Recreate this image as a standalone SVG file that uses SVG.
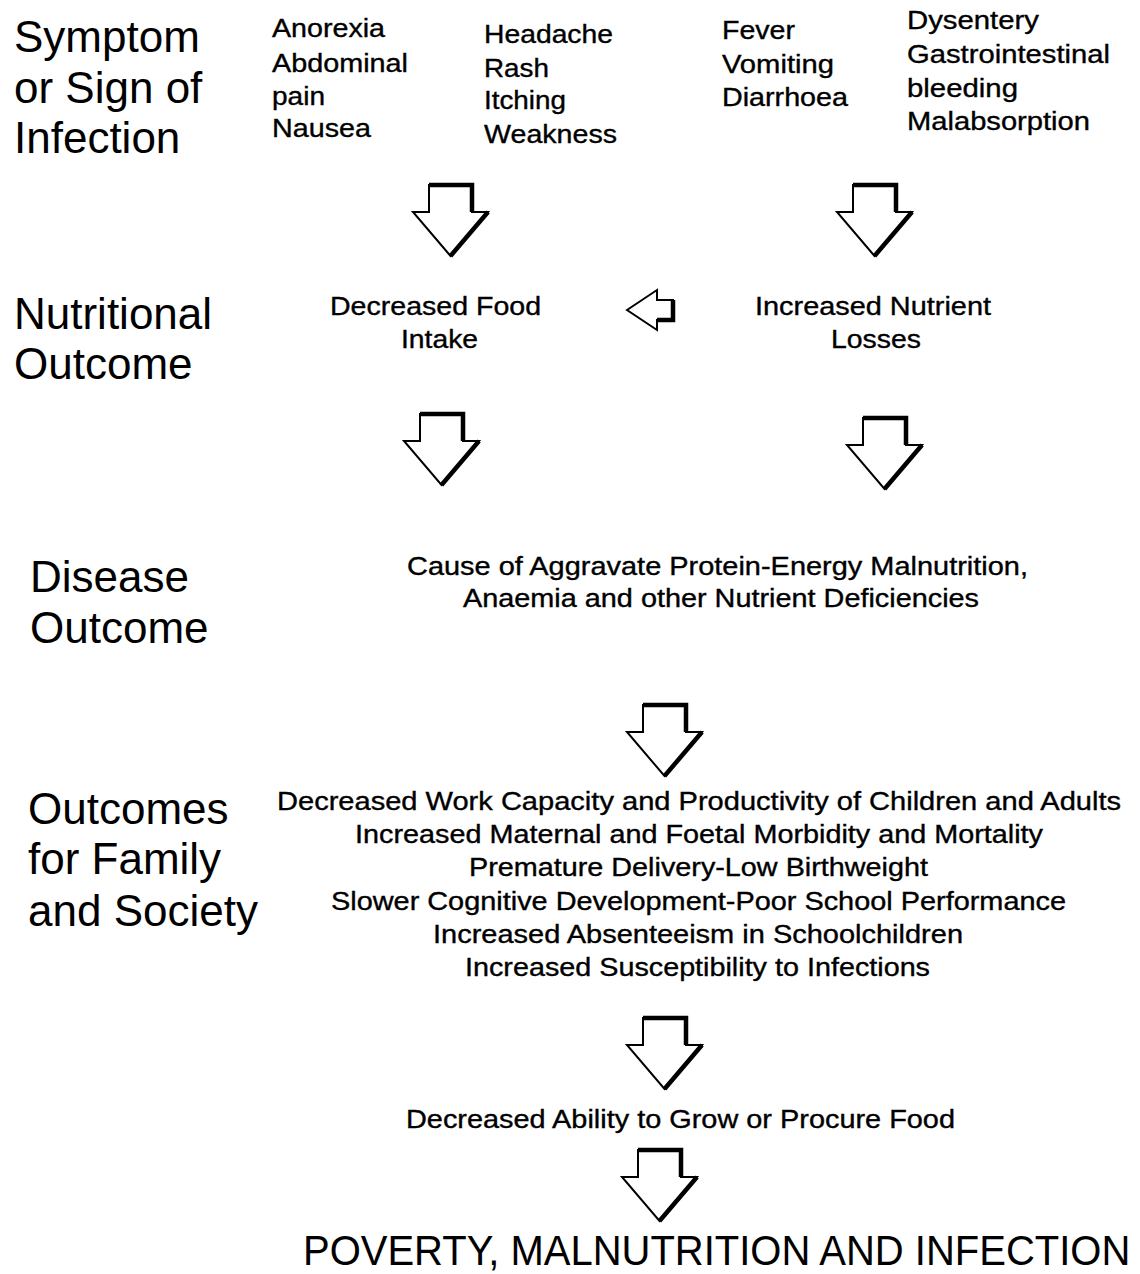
<svg xmlns="http://www.w3.org/2000/svg" width="1140" height="1274" viewBox="0 0 1140 1274">
<style>
text { font-family: "Liberation Sans", Arial, sans-serif; fill: #000; }
.h { font-size: 44px; }
.s { font-size: 25px; stroke: #000; stroke-width: 0.35px; }
.big { font-size: 40px; }
.arrow { fill: #fff; stroke: #000; stroke-width: 2; stroke-linejoin: miter; }
.shadow { fill: none; stroke: #000; stroke-width: 4.5; stroke-linejoin: miter; }
</style>
<defs>
<g id="down">
<path class="arrow" d="M0,0 H43 V27 H59 L21.5,71 L-16,27 H0 Z"/>
<path class="shadow" d="M0,0 H43 V27 M59,27 L21.5,71"/>
</g>
</defs>
<rect width="1140" height="1274" fill="#fff"/>

<g id="heading-symptom">
<text class="h" x="14" y="52">Symptom</text>
<text class="h" x="14" y="103">or Sign of</text>
<text class="h" x="14" y="153">Infection</text>
</g>
<g id="heading-nutritional">
<text class="h" x="14" y="329">Nutritional</text>
<text class="h" x="14" y="379">Outcome</text>
</g>
<g id="heading-disease">
<text class="h" x="30" y="592">Disease</text>
<text class="h" x="30" y="643">Outcome</text>
</g>
<g id="heading-society">
<text class="h" x="28" y="824">Outcomes</text>
<text class="h" x="28" y="874">for Family</text>
<text class="h" x="28" y="926">and Society</text>
</g>

<g id="symptoms-1">
<text class="s" x="272" y="37" textLength="113" lengthAdjust="spacingAndGlyphs">Anorexia</text>
<text class="s" x="272" y="72" textLength="136" lengthAdjust="spacingAndGlyphs">Abdominal</text>
<text class="s" x="272" y="105" textLength="53" lengthAdjust="spacingAndGlyphs">pain</text>
<text class="s" x="272" y="137" textLength="99" lengthAdjust="spacingAndGlyphs">Nausea</text>
</g>
<g id="symptoms-2">
<text class="s" x="484" y="43" textLength="129" lengthAdjust="spacingAndGlyphs">Headache</text>
<text class="s" x="484" y="77" textLength="65" lengthAdjust="spacingAndGlyphs">Rash</text>
<text class="s" x="484" y="109" textLength="82" lengthAdjust="spacingAndGlyphs">Itching</text>
<text class="s" x="484" y="143" textLength="133" lengthAdjust="spacingAndGlyphs">Weakness</text>
</g>
<g id="symptoms-3">
<text class="s" x="722" y="39" textLength="73" lengthAdjust="spacingAndGlyphs">Fever</text>
<text class="s" x="722" y="73" textLength="112" lengthAdjust="spacingAndGlyphs">Vomiting</text>
<text class="s" x="722" y="106" textLength="126" lengthAdjust="spacingAndGlyphs">Diarrhoea</text>
</g>
<g id="symptoms-4">
<text class="s" x="907" y="29" textLength="132" lengthAdjust="spacingAndGlyphs">Dysentery</text>
<text class="s" x="907" y="63" textLength="203" lengthAdjust="spacingAndGlyphs">Gastrointestinal</text>
<text class="s" x="907" y="97" textLength="111" lengthAdjust="spacingAndGlyphs">bleeding</text>
<text class="s" x="907" y="130" textLength="183" lengthAdjust="spacingAndGlyphs">Malabsorption</text>
</g>

<g id="decreased-food-intake">
<text class="s" x="330" y="315" textLength="211" lengthAdjust="spacingAndGlyphs">Decreased Food</text>
<text class="s" x="401" y="348" textLength="77" lengthAdjust="spacingAndGlyphs">Intake</text>
</g>
<g id="increased-nutrient-losses">
<text class="s" x="755" y="315" textLength="236" lengthAdjust="spacingAndGlyphs">Increased Nutrient</text>
<text class="s" x="831" y="348" textLength="90" lengthAdjust="spacingAndGlyphs">Losses</text>
</g>

<g id="disease-outcome">
<text class="s" x="407" y="575" textLength="621" lengthAdjust="spacingAndGlyphs">Cause of Aggravate Protein-Energy Malnutrition,</text>
<text class="s" x="463" y="607" textLength="516" lengthAdjust="spacingAndGlyphs">Anaemia and other Nutrient Deficiencies</text>
</g>

<g id="society-outcomes">
<text class="s" x="277" y="810" textLength="844" lengthAdjust="spacingAndGlyphs">Decreased Work Capacity and Productivity of Children and Adults</text>
<text class="s" x="355" y="843" textLength="688" lengthAdjust="spacingAndGlyphs">Increased Maternal and Foetal Morbidity and Mortality</text>
<text class="s" x="469" y="876" textLength="459" lengthAdjust="spacingAndGlyphs">Premature Delivery-Low Birthweight</text>
<text class="s" x="331" y="910" textLength="735" lengthAdjust="spacingAndGlyphs">Slower Cognitive Development-Poor School Performance</text>
<text class="s" x="433" y="943" textLength="530" lengthAdjust="spacingAndGlyphs">Increased Absenteeism in Schoolchildren</text>
<text class="s" x="465" y="976" textLength="465" lengthAdjust="spacingAndGlyphs">Increased Susceptibility to Infections</text>
</g>

<g id="decreased-ability">
<text class="s" x="406" y="1128" textLength="549" lengthAdjust="spacingAndGlyphs">Decreased Ability to Grow or Procure Food</text>
</g>

<g id="poverty">
<text class="big" transform="translate(303,1265) scale(1,1.05)" x="0" y="0">POVERTY, MALNUTRITION AND INFECTION</text>
</g>

<g id="connectors">
<use href="#down" x="429" y="185"/>
<use href="#down" x="853" y="185"/>
<use href="#down" x="420" y="414"/>
<use href="#down" x="863" y="418"/>
<use href="#down" x="643" y="705"/>
<use href="#down" x="643" y="1018"/>
<use href="#down" x="638" y="1150"/>
<g id="left-arrow">
<path class="arrow" d="M627,310 L657,290 V300 H673 V320 H657 V330 Z"/>
<path class="shadow" d="M673,300 V320 H657"/>
</g>
</g>
</svg>
